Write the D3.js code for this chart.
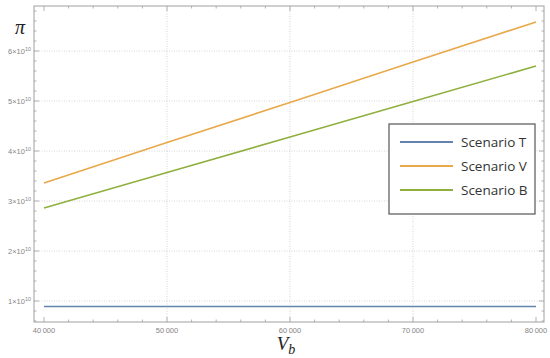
<!DOCTYPE html>
<html>
<head>
<meta charset="utf-8">
<script src="https://cdn.jsdelivr.net/npm/d3@7"></script>
<style>
  body { margin: 0; background: #fff; }
  .tick-label { font-family: "Liberation Sans", Arial, sans-serif; font-size: 7.5px; fill: #858585; }
  .legend-text { font-family: "Open Sans", "Noto Sans", sans-serif; font-size: 13.5px; fill: #333; }
</style>
</head>
<body>
<script>
// data
var vb = [40000, 50000, 60000, 70000, 80000];
var scenarioT = [0.89e10, 0.89e10, 0.89e10, 0.89e10, 0.89e10];
var scenarioV = [3.36e10, 4.17e10, 4.97e10, 5.78e10, 6.58e10];
var scenarioB = [2.86e10, 3.57e10, 4.28e10, 4.99e10, 5.70e10];
var seriesNames = ["Scenario T", "Scenario V", "Scenario B"];
var seriesColors = ["#6683ad", "#e9a84a", "#8fb03f"];
var xTicks = [40000, 50000, 60000, 70000, 80000];
var xTickLabels = ["40\u2009000", "50\u2009000", "60\u2009000", "70\u2009000", "80\u2009000"];
var yTicks = [1e10, 2e10, 3e10, 4e10, 5e10, 6e10];
var yTickLabels = ["1", "2", "3", "4", "5", "6"];

var width = 550, height = 358;
// plot frame edges (window.top is read-only, so no "top" here)
var fLeft = 34, fRight = 544, fTop = 6, fBottom = 322;

var svg = d3.select("body").append("svg")
    .attr("width", width)
    .attr("height", height);

var x = d3.scaleLinear()
    .domain([39187, 80650])
    .range([fLeft, fRight]);

var y = d3.scaleLinear()
    .domain([0.58e10, 6.9e10])
    .range([fBottom, fTop]);

// gridlines, dotted
svg.selectAll(".vgrid")
    .data(xTicks.slice(1, 4))
    .enter()
    .append("line")
    .attr("x1", function(d){ return x(d); })
    .attr("x2", function(d){ return x(d); })
    .attr("y1", fTop)
    .attr("y2", fBottom)
    .style("stroke", "#d4d4d4")
    .style("stroke-dasharray", "1,1.5");

svg.selectAll(".hgrid")
    .data(yTicks)
    .enter()
    .append("line")
    .attr("x1", fLeft)
    .attr("x2", fRight)
    .attr("y1", function(d){ return y(d); })
    .attr("y2", function(d){ return y(d); })
    .style("stroke", "#d4d4d4")
    .style("stroke-dasharray", "1,1.5");

// frame
svg.append("rect")
    .attr("x", fLeft)
    .attr("y", fTop)
    .attr("width", fRight - fLeft)
    .attr("height", fBottom - fTop)
    .style("fill", "none")
    .style("stroke", "#a0a0a0")
    .style("stroke-width", 1);

// ticks on all four sides, pointing inward
var xMinor = d3.range(40000, 80001, 2000);
var yMinor = d3.range(0.6e10, 6.9e10, 0.2e10);

function isMajorX(v){
    return xTicks.some(function(t){ return Math.abs(t - v) < 1; });
}
function isMajorY(v){
    return yTicks.some(function(t){ return Math.abs(t - v) < 1e6; });
}

var tickG = svg.append("g").style("stroke", "#a0a0a0").style("stroke-width", 0.8);

xMinor.forEach(function(v){
    var len = isMajorX(v) ? 5 : 2.5;
    tickG.append("line").attr("x1", x(v)).attr("x2", x(v)).attr("y1", fBottom).attr("y2", fBottom - len);
    tickG.append("line").attr("x1", x(v)).attr("x2", x(v)).attr("y1", fTop).attr("y2", fTop + len);
});
yMinor.forEach(function(v){
    var len = isMajorY(v) ? 5 : 2.5;
    tickG.append("line").attr("x1", fLeft).attr("x2", fLeft + len).attr("y1", y(v)).attr("y2", y(v));
    tickG.append("line").attr("x1", fRight).attr("x2", fRight - len).attr("y1", y(v)).attr("y2", y(v));
});

// x tick labels
svg.selectAll(".xlab")
    .data(xTicks)
    .enter()
    .append("text")
    .attr("class", "tick-label")
    .attr("x", function(d){ return x(d); })
    .attr("y", fBottom + 11)
    .attr("text-anchor", "middle")
    .text(function(d, i){ return xTickLabels[i]; });

// y tick labels, n x 10^10
var ylab = svg.selectAll(".ylab")
    .data(yTicks)
    .enter()
    .append("text")
    .attr("class", "tick-label")
    .attr("x", fLeft - 3)
    .attr("y", function(d){ return y(d) + 3; })
    .attr("text-anchor", "end");
ylab.append("tspan").text(function(d, i){ return yTickLabels[i] + "\u00d710"; });
ylab.append("tspan")
    .attr("dy", -3.5)
    .style("font-size", "5.5px")
    .text("10");

// series lines
var allSeries = [scenarioT, scenarioV, scenarioB];
var line = d3.line()
    .x(function(d){ return x(d[0]); })
    .y(function(d){ return y(d[1]); });

allSeries.forEach(function(s, k){
    svg.append("path")
        .datum(vb.map(function(v, i){ return [v, s[i]]; }))
        .attr("d", line)
        .style("fill", "none")
        .style("stroke", seriesColors[k])
        .style("stroke-width", 1.6);
});

// axis labels
svg.append("text")
    .attr("x", 20)
    .attr("y", 34)
    .attr("text-anchor", "middle")
    .style("font-family", "'Liberation Serif', 'DejaVu Serif', serif")
    .style("font-style", "italic")
    .style("font-size", "20px")
    .style("fill", "#222")
    .text("\u03c0");

var xl = svg.append("text")
    .attr("x", 286)
    .attr("y", 350)
    .attr("text-anchor", "middle")
    .style("font-family", "'Liberation Serif', 'DejaVu Serif', serif")
    .style("font-style", "italic")
    .style("font-size", "19px")
    .style("fill", "#222");
xl.append("tspan").text("V");
xl.append("tspan").attr("dy", 4).style("font-size", "14px").text("b");

// legend
var legend = svg.append("g").attr("transform", "translate(389,124)");
legend.append("rect")
    .attr("width", 146)
    .attr("height", 90)
    .style("fill", "#fff")
    .style("stroke", "#555")
    .style("stroke-width", 1.2);

var items = legend.selectAll(".item")
    .data(seriesNames)
    .enter()
    .append("g")
    .attr("transform", function(d, i){ return "translate(0," + (18 + i * 24) + ")"; });
items.append("line")
    .attr("x1", 11)
    .attr("x2", 64)
    .style("stroke", function(d, i){ return seriesColors[i]; })
    .style("stroke-width", 1.8);
items.append("text")
    .attr("class", "legend-text")
    .attr("x", 72)
    .attr("y", 5)
    .text(function(d){ return d; });
</script>
</body>
</html>
